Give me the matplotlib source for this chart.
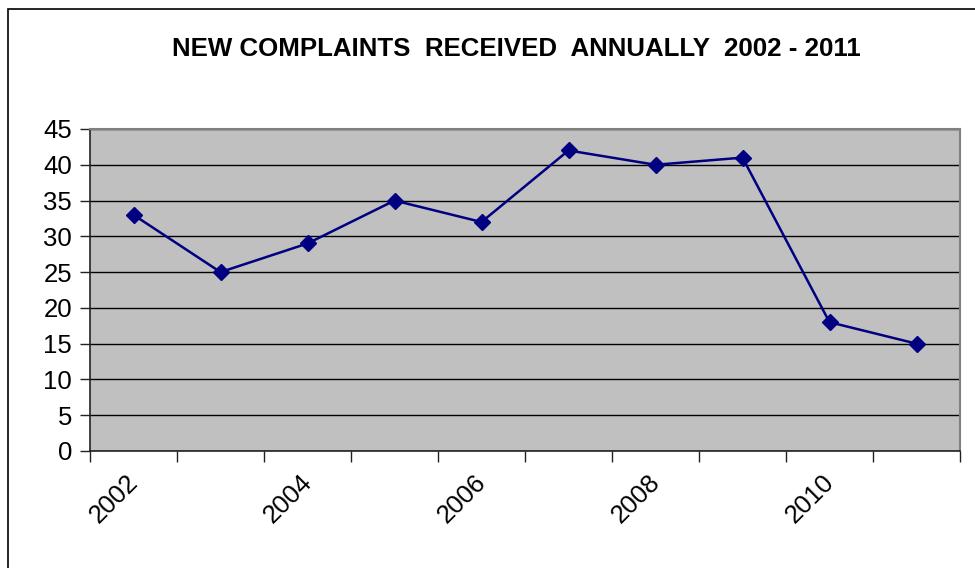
import numpy as np
import matplotlib.pyplot as plt
from matplotlib.patches import Rectangle
from matplotlib.transforms import ScaledTranslation

# annual complaint counts
years = ['2002', '2003', '2004', '2005', '2006', '2007', '2008', '2009', '2010', '2011']
complaints = [33, 25, 29, 35, 32, 42, 40, 41, 18, 15]
yticks = list(range(0, 50, 5))

plt.rcParams['font.family'] = ['Liberation Sans', 'DejaVu Sans']

fig = plt.figure(figsize=(9.75, 5.68), dpi=100)
ax = fig.add_axes([90/975, 1 - 451/568, 870/975, 322/568])

# outer frame of the chart (runs off the right and bottom edges)
fig.patches.append(Rectangle((8/975, -0.2), 1.2, 1.2 - 9/568, transform=fig.transFigure,
                             fill=False, edgecolor='black', linewidth=1.2))

x = np.arange(len(years))
ax.set_facecolor('#c0c0c0')
ax.plot(x, complaints, color='#000080', linewidth=1.8, marker='D', markersize=8.5,
        markerfacecolor='#000080', markeredgecolor='#000080', zorder=3)

ax.set_ylim(0, 45)
ax.set_yticks(yticks)
ax.set_yticklabels([str(v) for v in yticks], fontsize=18.5)
ax.yaxis.grid(True, color='black', linewidth=1)
ax.set_axisbelow(True)

# category boundaries get the tick marks, every other year gets a label
ax.set_xlim(-0.5, len(years) - 0.5)
ax.set_xticks(np.arange(-0.5, len(years), 1.0))
ax.set_xticklabels([])
ax.set_xticks(x[::2], minor=True)
ax.set_xticklabels(years[::2], minor=True, fontsize=18.5, rotation=45,
                   ha='right', va='top', rotation_mode='anchor')
ax.tick_params(axis='x', which='minor', length=0, pad=14)
ax.tick_params(axis='x', which='major', length=8, width=1, direction='out', color='#222222')
ax.tick_params(axis='y', length=7, width=1, direction='out', color='#222222', pad=6)

# nudge the year labels a little to the left
shift = ScaledTranslation(-8/100, 0, fig.dpi_scale_trans)
for lbl in ax.get_xticklabels(minor=True):
    lbl.set_transform(lbl.get_transform() + shift)

for side in ['top', 'right']:
    ax.spines[side].set_color('#808080')
    ax.spines[side].set_linewidth(1.5)
for side in ['left', 'bottom']:
    ax.spines[side].set_color('#222222')
    ax.spines[side].set_linewidth(1.2)

fig.text(516/975, 1 - 49/568, 'NEW COMPLAINTS  RECEIVED  ANNUALLY  2002 - 2011',
         ha='center', va='center', fontsize=18.6, fontweight='bold')

fig.savefig('out.png', dpi=100)
